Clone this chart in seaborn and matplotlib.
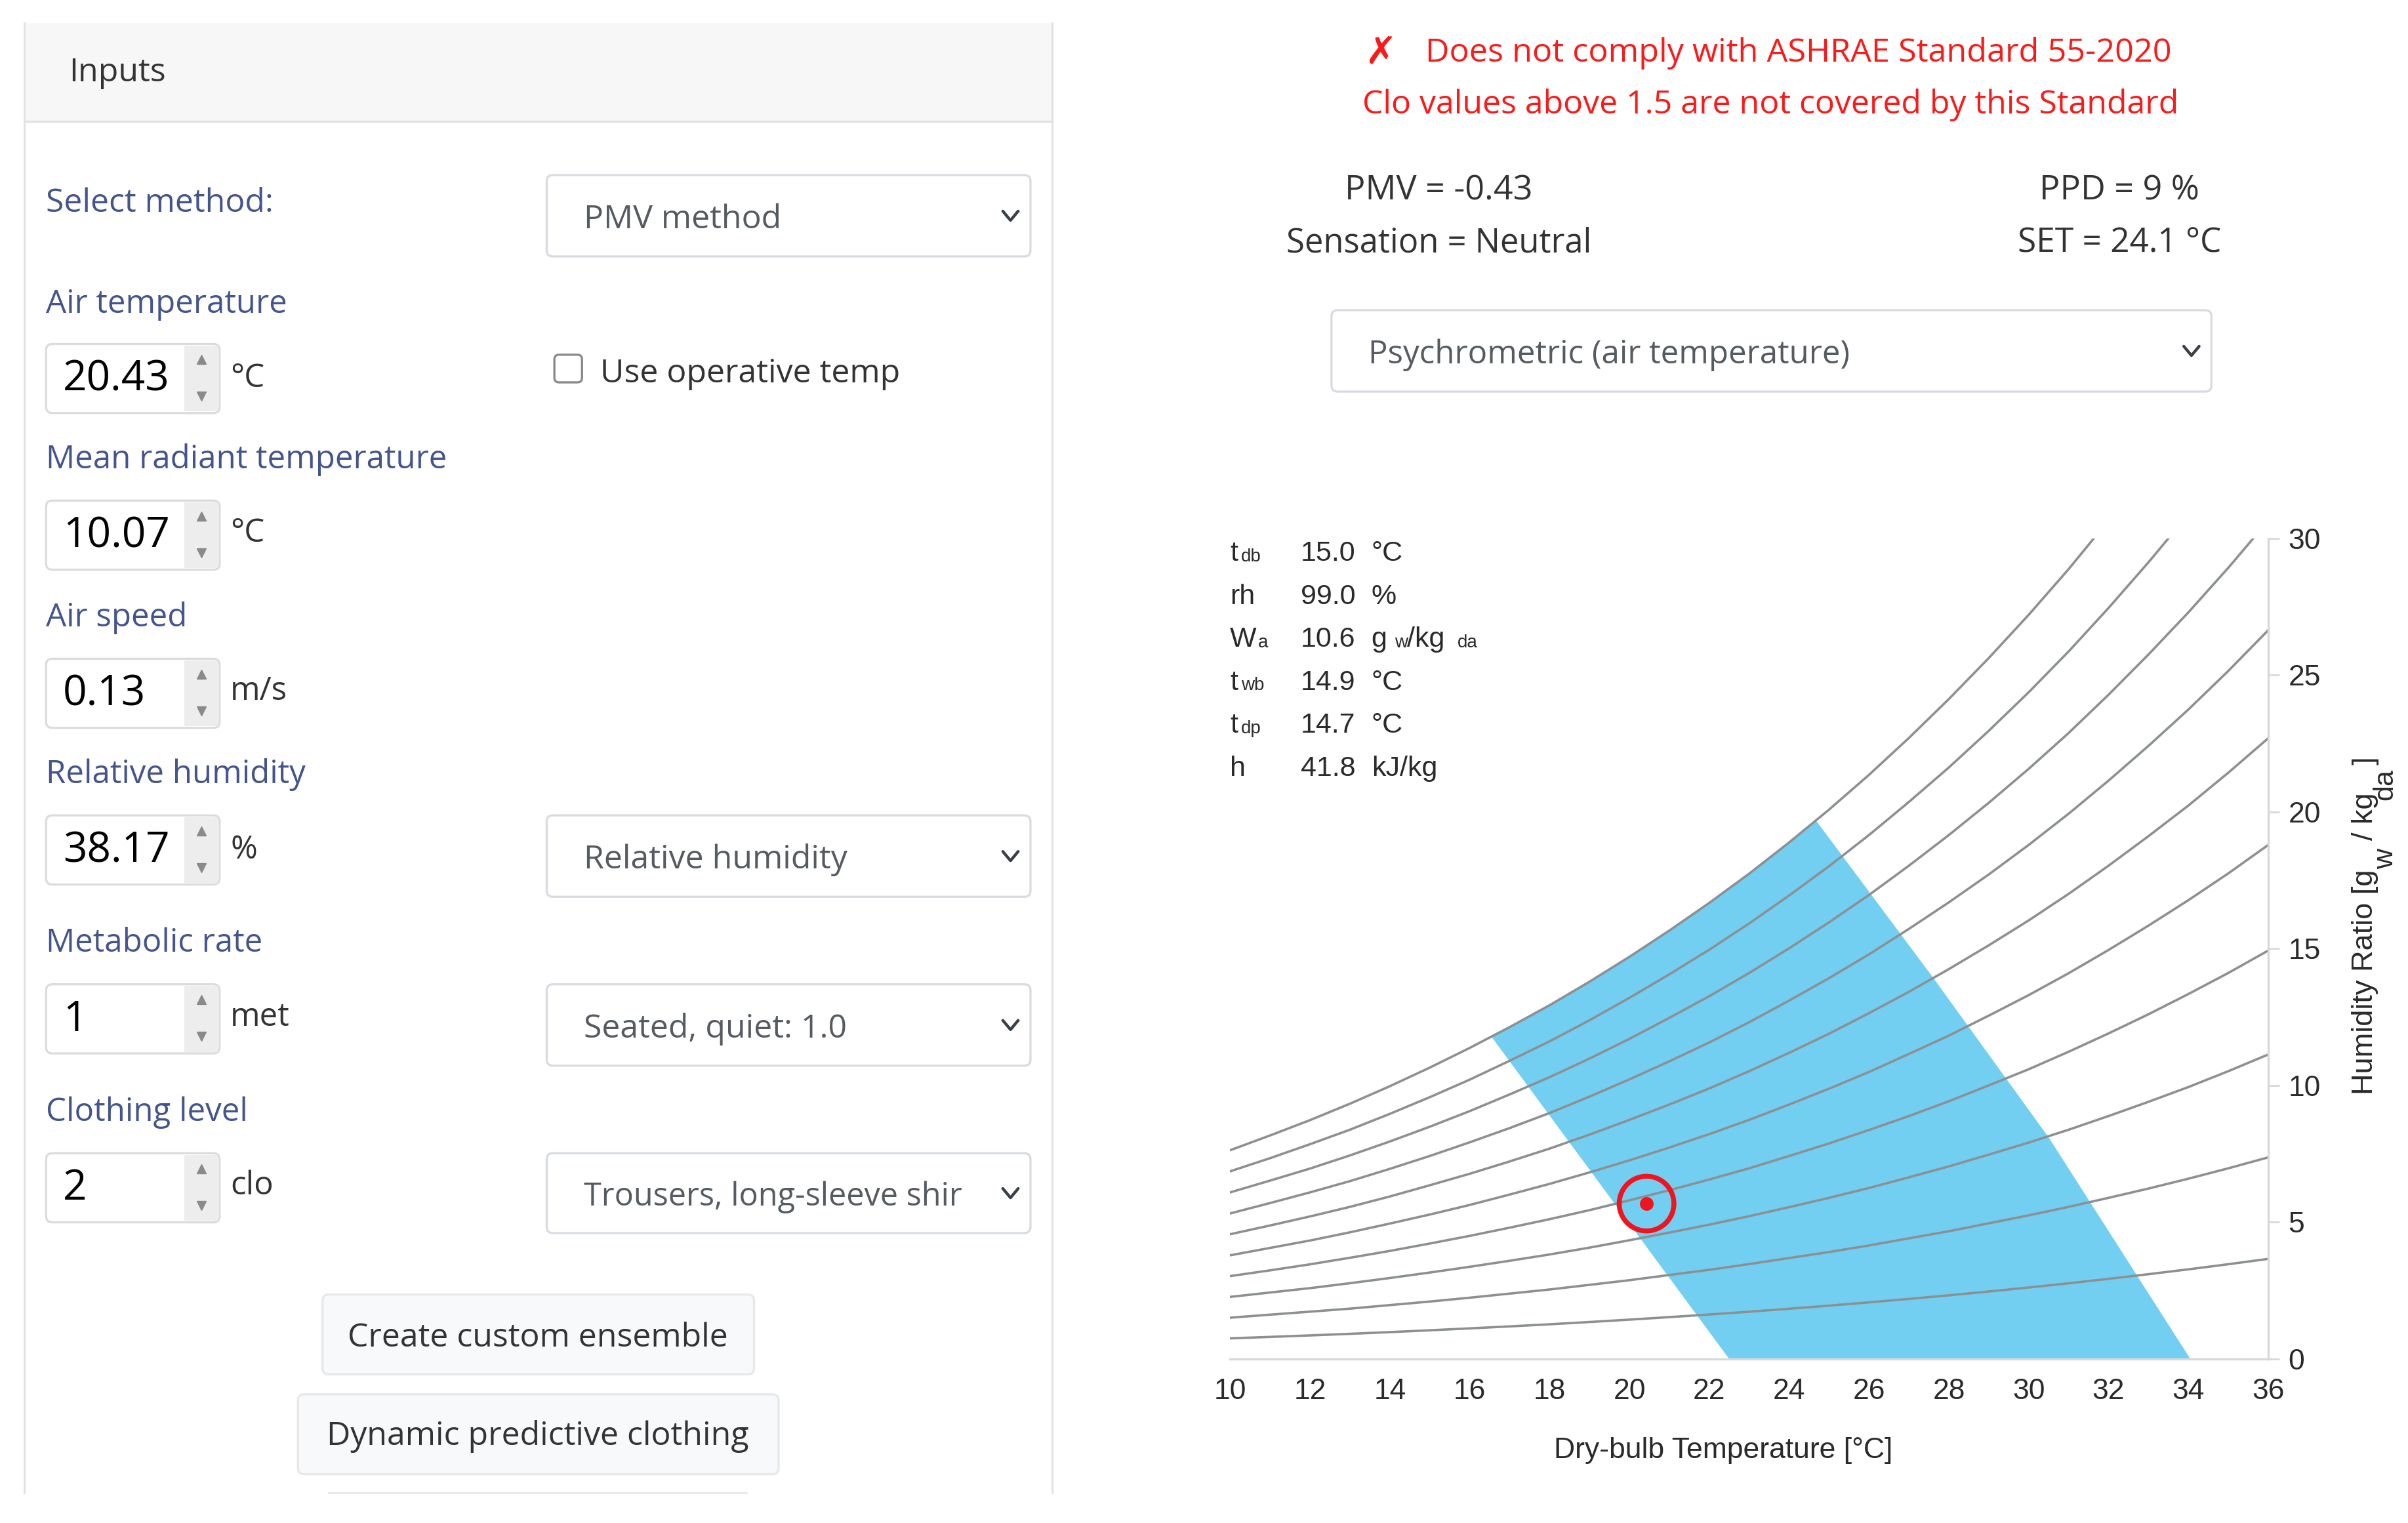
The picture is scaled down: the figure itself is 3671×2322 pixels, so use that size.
import matplotlib
matplotlib.use("Agg")
import matplotlib.pyplot as plt
from matplotlib.patches import FancyBboxPatch, Rectangle
import pandas as pd
import seaborn as sns

# ---- chart data ----
temps = list(range(10, 37))
rh100 = [7.63, 8.17, 8.73, 9.33, 9.97, 10.65, 11.37, 12.13, 12.93, 13.79, 14.70, 15.66, 16.67, 17.74,
         18.88, 20.08, 21.35, 22.70, 24.12, 25.62, 27.20, 28.87, 30.65, 32.52, 34.49, 36.58, 38.78]
rh90 = [6.86, 7.34, 7.85, 8.38, 8.96, 9.57, 10.21, 10.90, 11.61, 12.38, 13.20, 14.06, 14.96, 15.92,
        16.94, 18.01, 19.15, 20.36, 21.62, 22.96, 24.37, 25.86, 27.45, 29.12, 30.87, 32.73, 34.68]
rh80 = [6.09, 6.52, 6.96, 7.44, 7.95, 8.49, 9.06, 9.67, 10.30, 10.98, 11.70, 12.47, 13.26, 14.11,
        15.01, 15.96, 16.96, 18.03, 19.15, 20.33, 21.57, 22.88, 24.28, 25.75, 27.29, 28.92, 30.64]
rh70 = [5.32, 5.70, 6.09, 6.50, 6.95, 7.42, 7.92, 8.44, 8.99, 9.59, 10.22, 10.88, 11.57, 12.31,
        13.10, 13.92, 14.79, 15.72, 16.69, 17.71, 18.79, 19.93, 21.14, 22.41, 23.74, 25.15, 26.64]
rh60 = [4.56, 4.88, 5.21, 5.56, 5.94, 6.35, 6.77, 7.22, 7.69, 8.20, 8.74, 9.30, 9.89, 10.52,
        11.19, 11.89, 12.64, 13.42, 14.25, 15.12, 16.03, 17.00, 18.03, 19.11, 20.23, 21.43, 22.69]
rh50 = [3.79, 4.06, 4.33, 4.63, 4.95, 5.28, 5.63, 6.01, 6.40, 6.82, 7.26, 7.73, 8.22, 8.74,
        9.30, 9.88, 10.49, 11.15, 11.82, 12.55, 13.30, 14.10, 14.95, 15.84, 16.77, 17.75, 18.79]
rh40 = [3.03, 3.24, 3.46, 3.70, 3.95, 4.22, 4.50, 4.80, 5.11, 5.44, 5.80, 6.17, 6.56, 6.97,
        7.42, 7.88, 8.37, 8.88, 9.42, 10.00, 10.59, 11.23, 11.90, 12.60, 13.34, 14.11, 14.93]
rh30 = [2.27, 2.43, 2.59, 2.77, 2.96, 3.16, 3.37, 3.59, 3.82, 4.07, 4.34, 4.62, 4.91, 5.22,
        5.55, 5.89, 6.25, 6.64, 7.04, 7.47, 7.91, 8.38, 8.88, 9.40, 9.94, 10.52, 11.13]
rh20 = [1.51, 1.62, 1.73, 1.84, 1.97, 2.10, 2.24, 2.39, 2.54, 2.71, 2.88, 3.07, 3.26, 3.47,
        3.69, 3.91, 4.15, 4.41, 4.67, 4.96, 5.25, 5.56, 5.89, 6.23, 6.59, 6.97, 7.37]
rh10 = [0.755, 0.807, 0.862, 0.920, 0.983, 1.049, 1.119, 1.192, 1.269, 1.352, 1.439, 1.531, 1.626, 1.728,
        1.837, 1.950, 2.070, 2.196, 2.327, 2.467, 2.613, 2.767, 2.930, 3.100, 3.277, 3.464, 3.660]
rh_curves = {100: rh100, 90: rh90, 80: rh80, 70: rh70, 60: rh60,
             50: rh50, 40: rh40, 30: rh30, 20: rh20, 10: rh10}

comfort_t = [16.55, 17, 18, 19, 20, 21, 22, 23, 24, 24.68, 27.6, 30.5, 34.05, 22.5]
comfort_w = [11.77, 12.13, 12.93, 13.79, 14.70, 15.66, 16.67, 17.74, 18.88, 19.67, 13.95, 8.1, 0.0, 0.0]
point_t = [20.43]
point_w = [5.68]

x_ticks = list(range(10, 37, 2))
y_ticks = list(range(0, 31, 5))

readout_names = ["t", "rh", "W", "t", "t", "h"]
readout_subs = ["db", "", "a", "wb", "dp", ""]
readout_vals = ["15.0", "99.0", "10.6", "14.9", "14.7", "41.8"]
readout_units = ["°C", "%", "", "°C", "°C", "kJ/kg"]

# ---- form contents ----
input_labels = ["Air temperature", "Mean radiant temperature", "Air speed",
                "Relative humidity", "Metabolic rate", "Clothing level"]
input_values = ["20.43", "10.07", "0.13", "38.17", "1", "2"]
input_units = ["°C", "°C", "m/s", "%", "met", "clo"]

sns.set_theme(style="white")
UI = ["Open Sans", "DejaVu Sans"]
CH = ["Liberation Sans", "DejaVu Sans"]
plt.rcParams["font.family"] = UI

W, H = 3671, 2322
S = W / 1568.0          # layout units below are 1568-wide sketch units
fig = plt.figure(figsize=(W / 100, H / 100), dpi=100, facecolor="white")

ui = fig.add_axes([0, 0, 1, 1], zorder=0)
ui.set_xlim(0, W / S)
ui.set_ylim(H / S, 0)
ui.axis("off")

LABEL = "#44548c"
GREY = "#555b61"
BORDER = "#d8dce1"
INK = "#2a2a2a"
FS = 35.5


def box(x0, x1, y0, y1, fc="white", ec=BORDER, r=4, lw=2.4, z=1):
    ui.add_patch(FancyBboxPatch((x0, y0), x1 - x0, y1 - y0,
                                boxstyle=f"round,pad=0,rounding_size={r}",
                                fc=fc, ec=ec, lw=lw, zorder=z))


def txt(x, y, s, color="#333333", size=FS, ha="left", **kw):
    ui.text(x, y + 1.5, s, color=color, fontsize=size, ha=ha, va="center", zorder=5, **kw)


def chevron(x, y):
    ui.plot([x - 5, x, x + 5], [y - 3, y + 3, y - 3], color="#3a4048", lw=3.2,
            solid_capstyle="round", solid_joinstyle="round", zorder=5)


def select(x0, x1, y0, y1, s, size=36):
    box(x0, x1, y0, y1)
    txt(x0 + 24, (y0 + y1) / 2 + 1, s, color=GREY, size=size)
    chevron(x1 - 13, (y0 + y1) / 2)


# panel
ui.add_patch(Rectangle((16, 15), 669, 64, fc="#f7f7f7", ec="none", zorder=0))
ui.plot([16, 685], [79, 79], color="#e2e2e2", lw=2.4, zorder=1)
ui.plot([16, 16], [15, 973], color="#e2e2e2", lw=2.2, zorder=1)
ui.plot([685, 685], [15, 973], color="#e2e2e2", lw=2.2, zorder=1)
txt(45, 46, "Inputs", size=36)

txt(30, 131, "Select method:", color=LABEL, size=36)
select(356, 671, 114, 167, "PMV method")

label_y = [197, 298, 401, 503, 613, 723]
box_y = [224, 326, 429, 531, 641, 751]
unit_y = [245, 346, 449, 552, 661, 771]
for lab, val, unit, ly, by, uy in zip(input_labels, input_values, input_units,
                                      label_y, box_y, unit_y):
    txt(30, ly, lab, color=LABEL)
    box(30, 143, by, by + 45, ec="#dcdcdc")
    ui.add_patch(Rectangle((120, by + 1), 22, 43, fc="#ededed", ec="none", zorder=2))
    ui.plot([131], [by + 10], marker="^", ms=10, color="#8a8a8a", zorder=3)
    ui.plot([131], [by + 34], marker="v", ms=10, color="#8a8a8a", zorder=3)
    txt(41, by + 21.5, val, color="black", size=46)
    txt(150, uy, unit, color="#333333")

box(361, 379, 231, 249, ec="#8a8a8a", r=3, lw=2.4)
txt(391, 242, "Use operative temp", size=36)
select(356, 671, 531, 584, "Relative humidity")
select(356, 671, 641, 694, "Seated, quiet: 1.0")
select(356, 671, 751, 803, "Trousers, long-sleeve shir", size=35)

box(210, 491, 843, 895, fc="#f8f9fa", ec="#e6e8ea")
txt(350, 870, "Create custom ensemble", ha="center", size=36)
box(194, 507, 908, 960, fc="#f8f9fa", ec="#e6e8ea")
txt(350, 934, "Dynamic predictive clothing", ha="center", size=36)
ui.plot([214, 486], [972, 972], color="#e6e8ea", lw=2.2, zorder=1)
ui.add_patch(Rectangle((0, 973), W / S, 30, fc="white", ec="none", zorder=4))

# right-hand header
txt(899, 33, "✗", color="#fb1a1a", size=42, ha="center", family="DejaVu Sans", fontweight="bold")
txt(928, 33, "Does not comply with ASHRAE Standard 55-2020", color="#fb1a1a", size=36.3)
txt(1153, 67, "Clo values above 1.5 are not covered by this Standard", color="#fb1a1a", ha="center", size=36)
txt(937, 123, "PMV = -0.43", ha="center", size=37.5)
txt(937, 157, "Sensation = Neutral", ha="center", size=36.5)
txt(1380, 123, "PPD = 9 %", ha="center", size=37.5)
txt(1380, 157, "SET = 24.1 °C", ha="center", size=37)
select(867, 1440, 202, 255, "Psychrometric (air temperature)", size=35.5)

# ---- chart ----
px0, px1, py0, py1 = 801 * S, 1477 * S, 885 * S, 350.5 * S
ax = fig.add_axes([px0 / W, 1 - py0 / H, (px1 - px0) / W, (py0 - py1) / H], zorder=2)
ax.patch.set_alpha(0)

ax.fill(comfort_t, comfort_w, color="#72cff1", lw=0, zorder=1)

long_df = pd.DataFrame(
    [(t, w, rh) for rh, vals in rh_curves.items() for t, w in zip(temps, vals)],
    columns=["t", "w", "rh"],
)
sns.lineplot(data=long_df, x="t", y="w", units="rh", estimator=None, ax=ax,
             color="#8c9092", lw=2.6, zorder=2, legend=False)

sns.scatterplot(x=point_t, y=point_w, ax=ax, s=60 ** 2, facecolor="none",
                edgecolor="#f0141e", linewidth=5.4, zorder=4, legend=False, clip_on=False)
sns.scatterplot(x=point_t, y=point_w, ax=ax, s=15 ** 2, color="#f0141e",
                linewidth=0, zorder=5, legend=False)

ax.set_xlim(10, 36)
ax.set_ylim(0, 30)
ax.set_xticks(x_ticks)
ax.set_yticks(y_ticks)
ax.yaxis.tick_right()
ax.tick_params(axis="x", length=8, width=2, color="#d8d8d8", pad=13, labelsize=32,
               labelcolor=INK, labelfontfamily="Liberation Sans")
ax.tick_params(axis="y", length=12, width=2, color="#d8d8d8", pad=10, labelsize=32,
               labelcolor=INK, labelfontfamily="Liberation Sans")
for side in ("top", "left"):
    ax.spines[side].set_visible(False)
for side in ("bottom", "right"):
    ax.spines[side].set_color("#d8d8d8")
    ax.spines[side].set_linewidth(2.4)

ax.set_xlabel("Dry-bulb Temperature [°C]", fontsize=32, family="Liberation Sans", color=INK)
ax.xaxis.set_label_coords((1122 - 801) / 676, -(936 - 885) / 534.5)

ax.yaxis.set_label_position("right")
ax.set_ylabel("Humidity Ratio [g", fontsize=32.5, family="Liberation Sans", color=INK)
ax.yaxis.label.set(rotation=90, rotation_mode="anchor", ha="left", va="baseline")
ax.yaxis.set_label_coords((1545 - 801) / 676, (885 - 713) / 534.5)


def vtext(x, y, s, size):
    ui.text(x, y, s, color=INK, fontsize=size, family="Liberation Sans", rotation=90,
            rotation_mode="anchor", ha="left", va="baseline", zorder=5)


vtext(1558, 566, "w", 31)
vtext(1545, 547, "/ kg", 32.5)
vtext(1558, 521, "da", 31)
vtext(1545, 498, "]", 32.5)

# read-out table
read_y = [360, 388, 416, 444, 472, 500]
sub_x = [808, 0, 819, 808, 808, 0]
for name, sub, val, unit, y, sx in zip(readout_names, readout_subs, readout_vals,
                                       readout_units, read_y, sub_x):
    txt(801, y - 1, name, color=INK, size=31, family=CH)
    if sub:
        txt(sx, y + 1, sub, color=INK, size=20, family=CH)
    txt(847, y - 1, val, color=INK, size=31, family=CH)
    if unit:
        txt(893, y - 1, unit, color=INK, size=31, family=CH)
txt(893, 415, "g", color=INK, size=31, family=CH)
txt(908, 417, "w", color=INK, size=20, family=CH)
txt(916, 415, "/kg", color=INK, size=31, family=CH)
txt(949, 417, "da", color=INK, size=20, family=CH)

fig.savefig("out.png", dpi=100, facecolor="white")
